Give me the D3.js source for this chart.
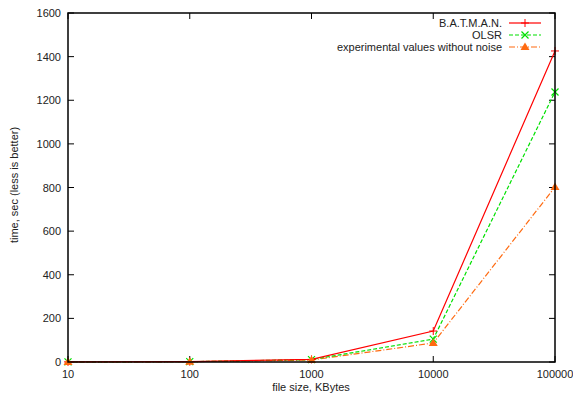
<!DOCTYPE html>
<html><head><meta charset="utf-8">
<script src="https://cdn.jsdelivr.net/npm/d3@7"></script>
<style>body{margin:0;background:#fff}svg{display:block}text{font-family:"Liberation Sans",Arial,sans-serif;font-size:11px;fill:#222}</style>
</head><body><svg id="c" width="573" height="396"></svg>
<script>
const fileSizes = [10, 100, 1000, 10000, 100000];
const batman = [0.5, 1.5, 12, 142, 1426];
const olsr = [0.5, 1.5, 11, 105, 1238];
const experimental = [0.4, 1.2, 9, 87, 802];
const seriesNames = ["B.A.T.M.A.N.", "OLSR", "experimental values without noise"];
const yTicks = [0, 200, 400, 600, 800, 1000, 1200, 1400, 1600];
const xTicks = [10, 100, 1000, 10000, 100000];

const svg = d3.select("#c");
const L = 68, R = 555, T = 13, B = 362;
const x = d3.scaleLog().domain([10, 100000]).range([L, R]);
const y = d3.scaleLinear().domain([0, 1600]).range([B, T]);

const series = [
  {name: seriesNames[0], vals: batman, color: "#ff0000", dash: null, sym: "plus"},
  {name: seriesNames[1], vals: olsr, color: "#00e000", dash: "4,2", sym: "cross"},
  {name: seriesNames[2], vals: experimental, color: "#ff6a10", dash: "6,2,1,2", sym: "tri"}
];

const g = svg.append("g");
yTicks.forEach(v => {
  g.append("line").attr("x1", L).attr("x2", L + 6).attr("y1", y(v)).attr("y2", y(v)).attr("stroke", "#000");
  g.append("line").attr("x1", R).attr("x2", R - 6).attr("y1", y(v)).attr("y2", y(v)).attr("stroke", "#000");
  g.append("text").attr("x", L - 7).attr("y", y(v) + 4).attr("text-anchor", "end").text(v);
});
xTicks.forEach(v => {
  g.append("line").attr("x1", x(v)).attr("x2", x(v)).attr("y1", B).attr("y2", B - 6).attr("stroke", "#000");
  g.append("line").attr("x1", x(v)).attr("x2", x(v)).attr("y1", T).attr("y2", T + 6).attr("stroke", "#000");
  g.append("text").attr("x", x(v)).attr("y", B + 16).attr("text-anchor", "middle").text(v);
});
svg.append("text").attr("x", 311).attr("y", 391).attr("text-anchor", "middle").text("file size, KBytes");
svg.append("text").attr("transform", "translate(18,185) rotate(-90)").attr("text-anchor", "middle").text("time, sec (less is better)");

const line = d3.line().x((d, i) => x(fileSizes[i])).y(d => y(d));
function sym(gg, type, cx, cy, color) {
  if (type === "plus") {
    gg.append("path").attr("d", `M${cx-4},${cy}H${cx+4}M${cx},${cy-4}V${cy+4}`).attr("stroke", color).attr("stroke-width", 1);
  } else if (type === "cross") {
    gg.append("path").attr("d", `M${cx-3.5},${cy-3.5}L${cx+3.5},${cy+3.5}M${cx-3.5},${cy+3.5}L${cx+3.5},${cy-3.5}`).attr("stroke", color).attr("stroke-width", 1.2);
  } else {
    gg.append("path").attr("d", `M${cx},${cy-4.5}L${cx+4.5},${cy+3}L${cx-4.5},${cy+3}Z`).attr("fill", color);
  }
}
series.slice().reverse().forEach(s => {
  svg.append("path").attr("d", line(s.vals)).attr("fill", "none").attr("stroke", s.color).attr("stroke-width", 1.2).attr("stroke-dasharray", s.dash);
});
series.forEach(s => {
  s.vals.forEach((v, i) => sym(svg, s.sym, x(fileSizes[i]), y(v), s.color));
});

series.forEach((s, i) => {
  const ly = 23 + i * 12;
  svg.append("text").attr("x", 502).attr("y", ly + 4).attr("text-anchor", "end").text(s.name);
  svg.append("line").attr("x1", 509).attr("x2", 541).attr("y1", ly).attr("y2", ly).attr("stroke", s.color).attr("stroke-width", 1.2).attr("stroke-dasharray", s.dash);
  sym(svg, s.sym, 525, ly, s.color);
});

svg.append("rect").attr("x", L).attr("y", T).attr("width", R - L).attr("height", B - T).attr("fill", "none").attr("stroke", "#000").attr("stroke-width", 1.5);
</script></body></html>
